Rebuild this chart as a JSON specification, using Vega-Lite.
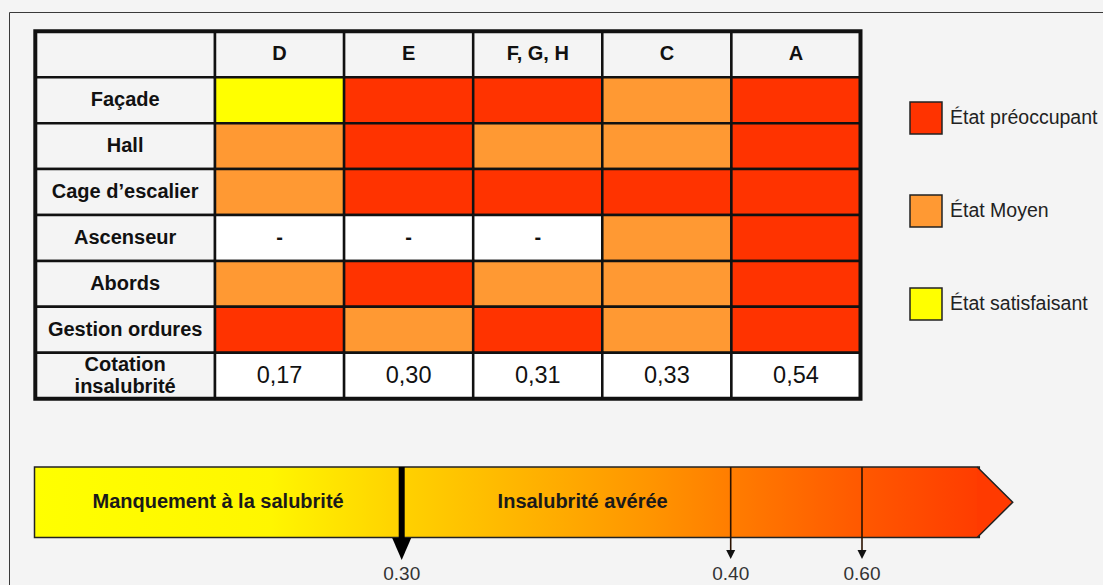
{
  "$schema": "https://vega.github.io/schema/vega-lite/v6.json",
  "width": 1094,
  "height": 573,
  "autosize": {"type": "none"},
  "padding": {"left": 9, "top": 12, "right": 0, "bottom": 0},
  "background": "#f4f4f4",
  "config": {
    "view": {"stroke": "#3a3a3a", "strokeWidth": 1},
    "font": "Liberation Sans",
    "text": {"font": "Liberation Sans"}
  },
  "datasets": {
    "criteres": [
      {"ligne": "entête", "libelle": ""},
      {"ligne": "Façade", "libelle": "Façade"},
      {"ligne": "Hall", "libelle": "Hall"},
      {"ligne": "Cage d’escalier", "libelle": "Cage d’escalier"},
      {"ligne": "Ascenseur", "libelle": "Ascenseur"},
      {"ligne": "Abords", "libelle": "Abords"},
      {"ligne": "Gestion ordures", "libelle": "Gestion ordures"},
      {"ligne": "Cotation insalubrité", "libelle": "Cotation\ninsalubrité"}
    ],
    "cellules": [
      {"ligne": "entête", "colonne": "D", "etat": "entête", "texte": "D"},
      {"ligne": "entête", "colonne": "E", "etat": "entête", "texte": "E"},
      {"ligne": "entête", "colonne": "F, G, H", "etat": "entête", "texte": "F, G, H"},
      {"ligne": "entête", "colonne": "C", "etat": "entête", "texte": "C"},
      {"ligne": "entête", "colonne": "A", "etat": "entête", "texte": "A"},
      {"ligne": "Façade", "colonne": "D", "etat": "État satisfaisant", "texte": ""},
      {"ligne": "Façade", "colonne": "E", "etat": "État préoccupant", "texte": ""},
      {"ligne": "Façade", "colonne": "F, G, H", "etat": "État préoccupant", "texte": ""},
      {"ligne": "Façade", "colonne": "C", "etat": "État Moyen", "texte": ""},
      {"ligne": "Façade", "colonne": "A", "etat": "État préoccupant", "texte": ""},
      {"ligne": "Hall", "colonne": "D", "etat": "État Moyen", "texte": ""},
      {"ligne": "Hall", "colonne": "E", "etat": "État préoccupant", "texte": ""},
      {"ligne": "Hall", "colonne": "F, G, H", "etat": "État Moyen", "texte": ""},
      {"ligne": "Hall", "colonne": "C", "etat": "État Moyen", "texte": ""},
      {"ligne": "Hall", "colonne": "A", "etat": "État préoccupant", "texte": ""},
      {"ligne": "Cage d’escalier", "colonne": "D", "etat": "État Moyen", "texte": ""},
      {"ligne": "Cage d’escalier", "colonne": "E", "etat": "État préoccupant", "texte": ""},
      {"ligne": "Cage d’escalier", "colonne": "F, G, H", "etat": "État préoccupant", "texte": ""},
      {"ligne": "Cage d’escalier", "colonne": "C", "etat": "État préoccupant", "texte": ""},
      {"ligne": "Cage d’escalier", "colonne": "A", "etat": "État préoccupant", "texte": ""},
      {"ligne": "Ascenseur", "colonne": "D", "etat": "sans objet", "texte": "-"},
      {"ligne": "Ascenseur", "colonne": "E", "etat": "sans objet", "texte": "-"},
      {"ligne": "Ascenseur", "colonne": "F, G, H", "etat": "sans objet", "texte": "-"},
      {"ligne": "Ascenseur", "colonne": "C", "etat": "État Moyen", "texte": ""},
      {"ligne": "Ascenseur", "colonne": "A", "etat": "État préoccupant", "texte": ""},
      {"ligne": "Abords", "colonne": "D", "etat": "État Moyen", "texte": ""},
      {"ligne": "Abords", "colonne": "E", "etat": "État préoccupant", "texte": ""},
      {"ligne": "Abords", "colonne": "F, G, H", "etat": "État Moyen", "texte": ""},
      {"ligne": "Abords", "colonne": "C", "etat": "État Moyen", "texte": ""},
      {"ligne": "Abords", "colonne": "A", "etat": "État préoccupant", "texte": ""},
      {"ligne": "Gestion ordures", "colonne": "D", "etat": "État préoccupant", "texte": ""},
      {"ligne": "Gestion ordures", "colonne": "E", "etat": "État Moyen", "texte": ""},
      {"ligne": "Gestion ordures", "colonne": "F, G, H", "etat": "État préoccupant", "texte": ""},
      {"ligne": "Gestion ordures", "colonne": "C", "etat": "État Moyen", "texte": ""},
      {"ligne": "Gestion ordures", "colonne": "A", "etat": "État préoccupant", "texte": ""},
      {"ligne": "Cotation insalubrité", "colonne": "D", "etat": "valeur", "texte": "0,17"},
      {"ligne": "Cotation insalubrité", "colonne": "E", "etat": "valeur", "texte": "0,30"},
      {"ligne": "Cotation insalubrité", "colonne": "F, G, H", "etat": "valeur", "texte": "0,31"},
      {"ligne": "Cotation insalubrité", "colonne": "C", "etat": "valeur", "texte": "0,33"},
      {"ligne": "Cotation insalubrité", "colonne": "A", "etat": "valeur", "texte": "0,54"}
    ],
    "cadre": [{"objet": "tableau"}],
    "corps": [{"debut": 0, "fin": 0.8}],
    "zones": [
      {"zone": "Manquement à la salubrité", "centre": 0.15},
      {"zone": "Insalubrité avérée", "centre": 0.355}
    ],
    "seuils": [
      {"seuil": 0.3, "libelle": "0.30", "niveau": "principal"},
      {"seuil": 0.4, "libelle": "0.40", "niveau": "secondaire"},
      {"seuil": 0.6, "libelle": "0.60", "niveau": "secondaire"}
    ]
  },
  "resolve": {"scale": {"x": "independent", "y": "independent", "color": "independent"}},
  "layer": [
    {
      "data": {"name": "criteres"},
      "layer": [
        {
          "mark": {"type": "rect", "fill": "#f4f4f4", "stroke": "#111111", "strokeWidth": 2.5},
          "encoding": {
            "x": {"datum": "critère", "type": "nominal", "scale": {"domain": ["critère"], "range": [26.3, 206], "paddingInner": 0, "paddingOuter": 0}, "axis": null},
            "y": {"field": "ligne", "type": "nominal", "scale": {"domain": ["entête", "Façade", "Hall", "Cage d’escalier", "Ascenseur", "Abords", "Gestion ordures", "Cotation insalubrité"], "range": [19.3, 386.7], "paddingInner": 0, "paddingOuter": 0}, "axis": null}
          }
        },
        {
          "transform": [{"filter": "datum.ligne !== 'Cotation insalubrité'"}],
          "mark": {"type": "text", "fontWeight": "bold", "fontSize": 20, "color": "#111111", "baseline": "middle"},
          "encoding": {
            "x": {"datum": "critère", "type": "nominal", "axis": null},
            "y": {"field": "ligne", "type": "nominal", "axis": null},
            "text": {"field": "libelle"}
          }
        },
        {
          "transform": [{"filter": "datum.ligne === 'Cotation insalubrité'"}],
          "mark": {"type": "text", "fontWeight": "bold", "fontSize": 20, "color": "#111111", "lineBreak": "\n", "lineHeight": 22, "baseline": "middle", "dy": -11},
          "encoding": {
            "x": {"datum": "critère", "type": "nominal", "axis": null},
            "y": {"field": "ligne", "type": "nominal", "axis": null},
            "text": {"field": "libelle"}
          }
        }
      ]
    },
    {
      "data": {"name": "cellules"},
      "layer": [
        {
          "mark": {"type": "rect", "stroke": "#111111", "strokeWidth": 2.5},
          "encoding": {
            "x": {"field": "colonne", "type": "nominal", "scale": {"domain": ["D", "E", "F, G, H", "C", "A"], "range": [206, 851.5], "paddingInner": 0, "paddingOuter": 0}, "axis": null},
            "y": {"field": "ligne", "type": "nominal", "scale": {"domain": ["entête", "Façade", "Hall", "Cage d’escalier", "Ascenseur", "Abords", "Gestion ordures", "Cotation insalubrité"], "range": [19.3, 386.7], "paddingInner": 0, "paddingOuter": 0}, "axis": null},
            "color": {
              "field": "etat",
              "type": "nominal",
              "scale": {
                "domain": ["État préoccupant", "État Moyen", "État satisfaisant", "entête", "sans objet", "valeur"],
                "range": ["#ff3300", "#ff9933", "#ffff00", "#f4f4f4", "#ffffff", "#ffffff"]
              },
              "legend": {
                "orient": "none",
                "legendX": 900,
                "legendY": 89,
                "values": ["État préoccupant", "État Moyen", "État satisfaisant"],
                "title": null,
                "symbolType": "square",
                "symbolSize": 1024,
                "symbolStrokeColor": "#222222",
                "symbolStrokeWidth": 1.5,
                "symbolOpacity": 1,
                "labelFont": "Liberation Sans",
                "labelFontSize": 19.5,
                "labelColor": "#222222",
                "labelOffset": 7,
                "rowPadding": 55
              }
            }
          }
        },
        {
          "transform": [{"filter": "datum.ligne !== 'Cotation insalubrité'"}],
          "mark": {"type": "text", "fontWeight": "bold", "fontSize": 20, "color": "#111111", "baseline": "middle"},
          "encoding": {
            "x": {"field": "colonne", "type": "nominal", "axis": null},
            "y": {"field": "ligne", "type": "nominal", "axis": null},
            "text": {"field": "texte"}
          }
        },
        {
          "transform": [{"filter": "datum.ligne === 'Cotation insalubrité'"}],
          "mark": {"type": "text", "fontSize": 23.5, "color": "#111111", "baseline": "middle"},
          "encoding": {
            "x": {"field": "colonne", "type": "nominal", "axis": null},
            "y": {"field": "ligne", "type": "nominal", "axis": null},
            "text": {"field": "texte"}
          }
        }
      ]
    },
    {
      "data": {"name": "cadre"},
      "mark": {"type": "rect", "fillOpacity": 0, "stroke": "#111111", "strokeWidth": 4},
      "encoding": {
        "x": {"field": "objet", "type": "nominal", "scale": {"domain": ["tableau"], "range": [26.3, 851.5], "paddingInner": 0, "paddingOuter": 0}, "axis": null},
        "y": {"field": "objet", "type": "nominal", "scale": {"domain": ["tableau"], "range": [19.3, 386.7], "paddingInner": 0, "paddingOuter": 0}, "axis": null}
      }
    },
    {
      "layer": [
        {
          "data": {"name": "corps"},
          "mark": {
            "type": "rect",
            "fill": {
              "gradient": "linear", "x1": 0, "x2": 1, "y1": 0, "y2": 0,
              "stops": [
                {"offset": 0, "color": "#ffff00"},
                {"offset": 0.25, "color": "#fff600"},
                {"offset": 0.387, "color": "#ffd200"},
                {"offset": 0.535, "color": "#ffb000"},
                {"offset": 0.651, "color": "#ff9500"},
                {"offset": 0.737, "color": "#ff7d00"},
                {"offset": 0.876, "color": "#ff5800"},
                {"offset": 1, "color": "#ff3c00"}
              ]
            },
            "stroke": "#222222",
            "strokeWidth": 1.5
          },
          "encoding": {
            "x": {"field": "debut", "type": "quantitative", "scale": {"domain": [0, 0.3, 0.4, 0.6, 0.8], "range": [25.5, 392.7, 721.7, 853, 970.3]}, "axis": null},
            "x2": {"field": "fin"},
            "y": {"datum": 1, "type": "quantitative", "scale": {"domain": [0, 1], "range": [525.5, 455]}, "axis": null},
            "y2": {"datum": 0}
          }
        },
        {
          "data": {"name": "corps"},
          "mark": {"type": "point", "shape": "M -0.06 -1 L 0.948 0 L -0.06 1", "size": 4970, "filled": true, "fill": "#ff3a00", "stroke": "#222222", "strokeWidth": 1.5, "opacity": 1},
          "encoding": {
            "x": {"field": "fin", "type": "quantitative", "axis": null},
            "y": {"datum": 0.5, "type": "quantitative", "axis": null}
          }
        },
        {
          "data": {"name": "zones"},
          "mark": {"type": "text", "fontWeight": "bold", "fontSize": 20, "color": "#1a1a1a", "baseline": "middle"},
          "encoding": {
            "x": {"field": "centre", "type": "quantitative", "axis": null},
            "y": {"datum": 0.5, "type": "quantitative", "axis": null},
            "text": {"field": "zone"}
          }
        },
        {
          "data": {"name": "seuils"},
          "transform": [{"filter": "datum.niveau === 'principal'"}],
          "mark": {"type": "rule", "color": "#000000", "strokeWidth": 6},
          "encoding": {
            "x": {"field": "seuil", "type": "quantitative", "axis": null},
            "y": {"datum": 1, "type": "quantitative", "axis": null},
            "y2": {"datum": -0.05}
          }
        },
        {
          "data": {"name": "seuils"},
          "transform": [{"filter": "datum.niveau === 'principal'"}],
          "mark": {"type": "point", "shape": "M -1 -1.15 L 1 -1.15 L 0 1.15 Z", "size": 361, "filled": true, "fill": "#000000", "opacity": 1},
          "encoding": {
            "x": {"field": "seuil", "type": "quantitative", "axis": null},
            "y": {"datum": -0.163, "type": "quantitative", "axis": null}
          }
        },
        {
          "data": {"name": "seuils"},
          "transform": [{"filter": "datum.niveau === 'secondaire'"}],
          "mark": {"type": "rule", "color": "#2a1200", "strokeWidth": 1.6},
          "encoding": {
            "x": {"field": "seuil", "type": "quantitative", "axis": null},
            "y": {"datum": 1, "type": "quantitative", "axis": null},
            "y2": {"datum": -0.19}
          }
        },
        {
          "data": {"name": "seuils"},
          "transform": [{"filter": "datum.niveau === 'secondaire'"}],
          "mark": {"type": "point", "shape": "M -1 -1 L 1 -1 L 0 1 Z", "size": 81, "filled": true, "fill": "#111111", "opacity": 1},
          "encoding": {
            "x": {"field": "seuil", "type": "quantitative", "axis": null},
            "y": {"datum": -0.241, "type": "quantitative", "axis": null}
          }
        },
        {
          "data": {"name": "seuils"},
          "mark": {"type": "text", "fontSize": 19, "color": "#333333", "baseline": "alphabetic"},
          "encoding": {
            "x": {"field": "seuil", "type": "quantitative", "axis": null},
            "y": {"datum": -0.6, "type": "quantitative", "axis": null},
            "text": {"field": "libelle"}
          }
        }
      ]
    }
  ]
}
